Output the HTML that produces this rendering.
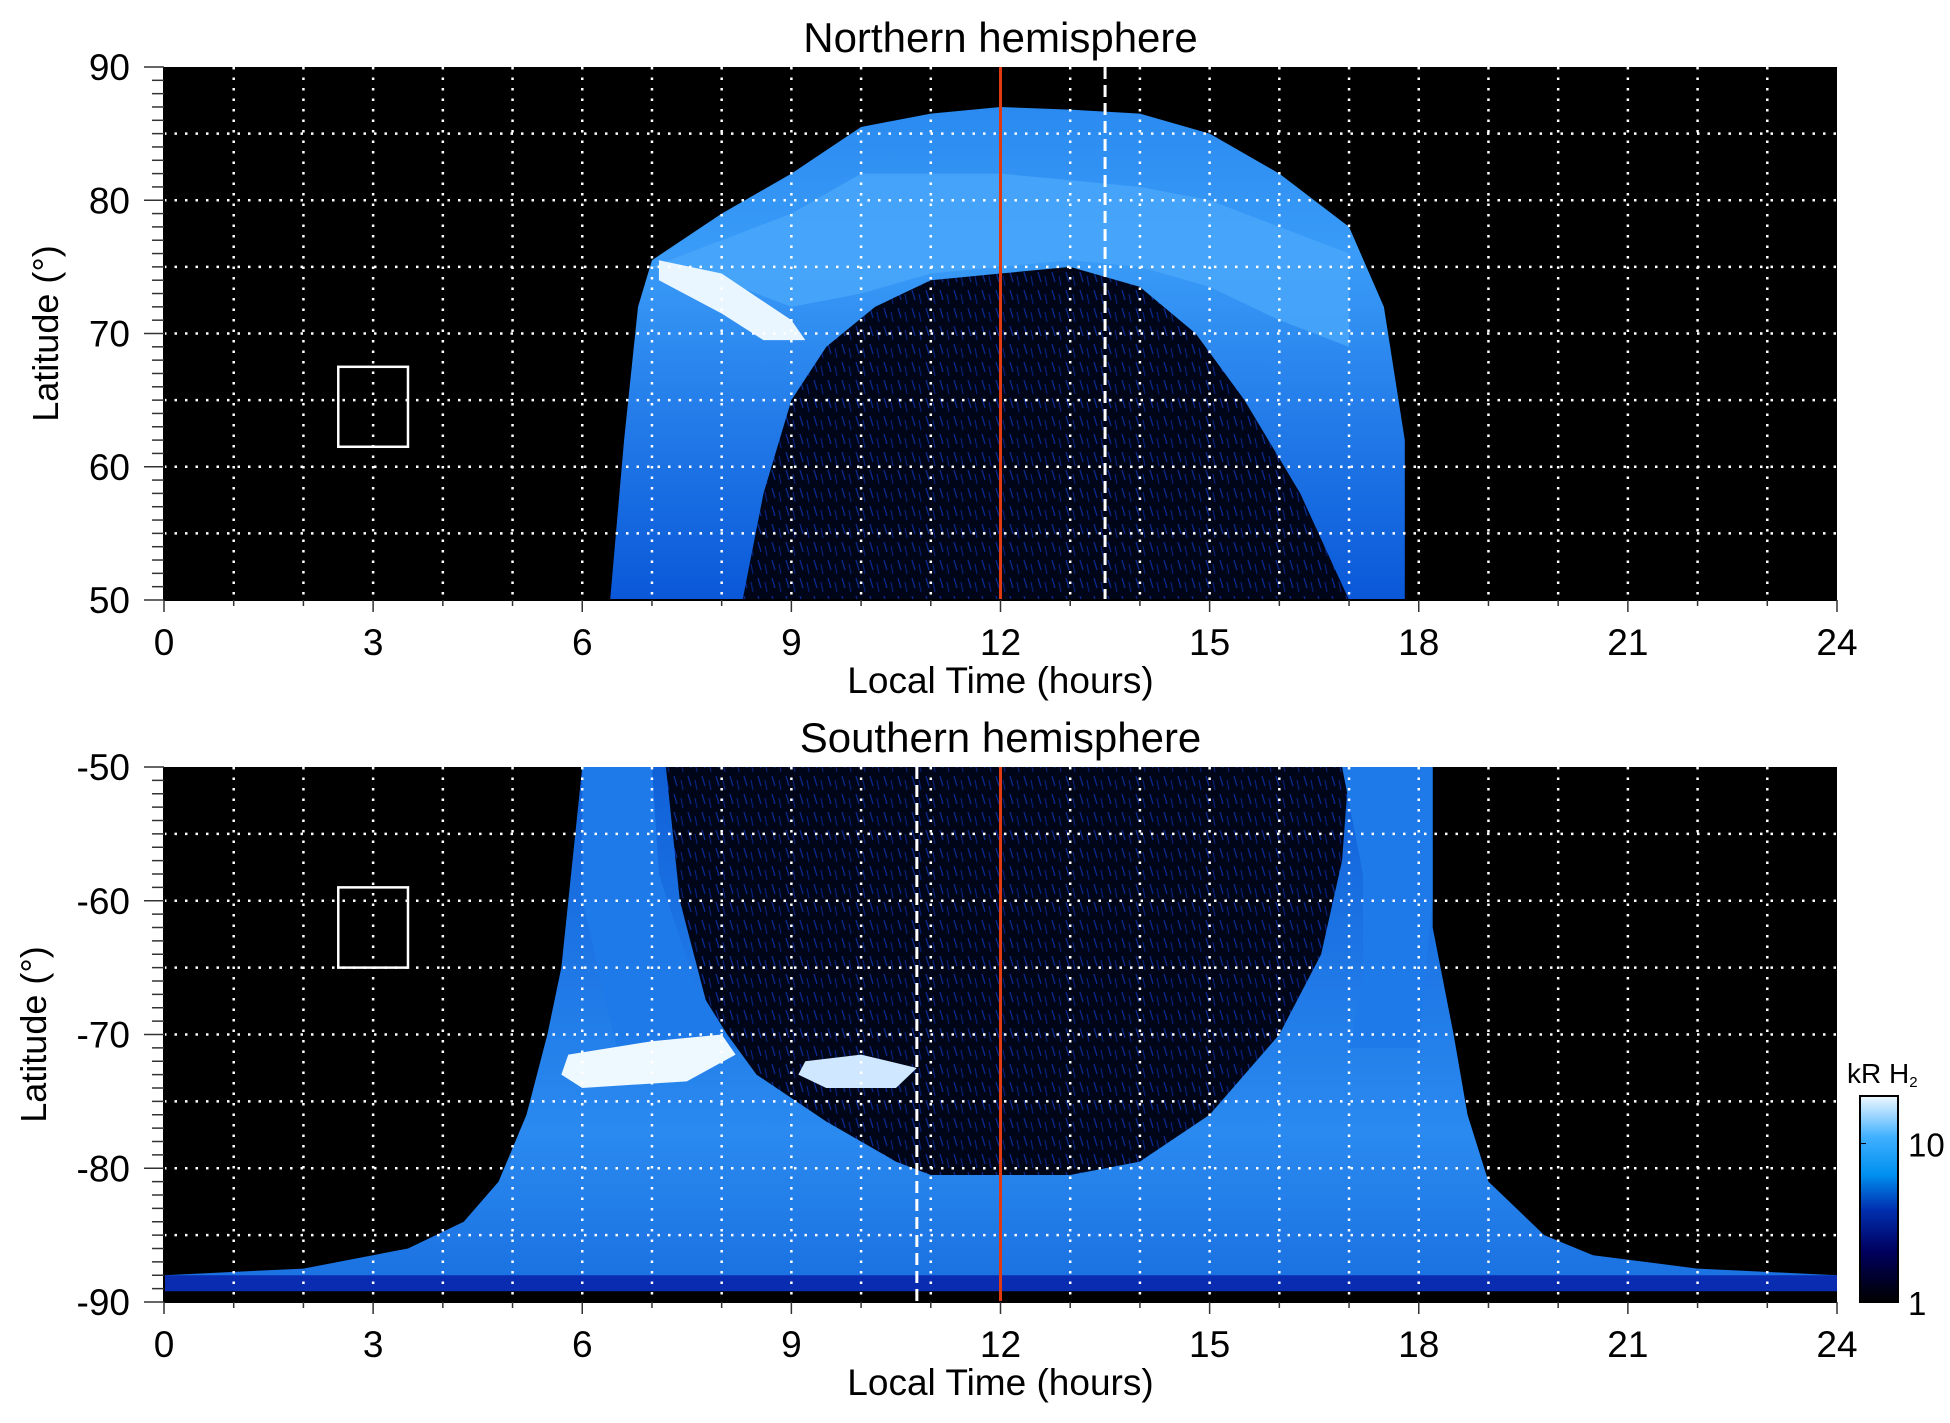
<!DOCTYPE html>
<html><head><meta charset="utf-8"><style>
body{margin:0;background:#fff;}
svg{display:block;font-family:"Liberation Sans",sans-serif;}
</style></head><body>
<svg id="c" width="1950" height="1423" viewBox="0 0 1950 1423">
<defs>
<linearGradient id="cb" x1="0" y1="1" x2="0" y2="0">
<stop offset="0" stop-color="#000000"/><stop offset="0.25" stop-color="#000060"/><stop offset="0.45" stop-color="#0030b0"/><stop offset="0.62" stop-color="#0090f0"/><stop offset="0.8" stop-color="#40b0ff"/><stop offset="1" stop-color="#f0f8ff"/>
</linearGradient>
<linearGradient id="gN" x1="0" y1="0" x2="0" y2="1">
<stop offset="0" stop-color="#2a8af0"/><stop offset="0.3" stop-color="#3a9cf8"/><stop offset="1" stop-color="#0a58d8"/>
</linearGradient>
<linearGradient id="gS" x1="0" y1="1" x2="0" y2="0">
<stop offset="0" stop-color="#1a70e0"/><stop offset="0.3" stop-color="#2a8af0"/><stop offset="1" stop-color="#1060d8"/>
</linearGradient>
<pattern id="spk" width="14" height="18" patternUnits="userSpaceOnUse">
<rect width="14" height="18" fill="#000518"/>
<line x1="2" y1="2" x2="5" y2="12" stroke="#0a2a90" stroke-width="1.3"/>
<line x1="9" y1="6" x2="11" y2="16" stroke="#06207a" stroke-width="1.2"/>
</pattern>
</defs>
<g id="plots"></g>
</svg>
<script>
// ---- data ----
const hourTicks=[0,3,6,9,12,15,18,21,24];
const latTicksN=[50,60,70,80,90];
const latTicksS=[-90,-80,-70,-60,-50];
const noonLT=12;
const dashLTN=13.5, dashLTS=10.8;
const outerN=[[6.4,50],[6.6,62],[6.8,72],[7,75.5],[8,79],[9,82],[10,85.5],[11,86.5],[12,87],[13,86.8],[14,86.5],[15,85],[16,82],[17,78],[17.5,72],[17.8,62],[17.8,50]];
const innerN=[[8.3,50],[8.6,58],[9,65],[9.5,69],[10.2,72],[11,74],[12,74.5],[13,75],[14,73.5],[14.8,70],[15.5,65],[16.3,58],[17,50]];
const brightN=[[7,75],[8,74],[9,72],[10,73],[11,74.5],[12,75],[13,75.5],[14,75],[15,73.5],[16,71],[17,69],[17,76],[16,78],[15,80],[14,81],[12,82],[10,82],[9,79],[8,77]];
const spotN=[[7.1,75.5],[8,74.5],[9,71],[9.2,69.5],[8.6,69.5],[8,71.5],[7.1,74]];
const outerS=[[6,-50],[5.7,-65],[5.5,-70],[5.2,-76],[4.8,-81],[4.3,-84],[3.5,-86],[2,-87.5],[0,-88],[0,-89],[24,-89],[24,-88],[22,-87.5],[20.5,-86.5],[19.8,-85],[19,-81],[18.7,-76],[18.5,-70],[18.2,-62],[18.2,-50]];
const innerS=[[7.2,-50],[7.4,-60],[7.8,-68],[8.5,-73],[9.5,-76.5],[10.5,-79.5],[11,-80.5],[13,-80.5],[14,-79.5],[15,-76],[16,-70],[16.6,-64],[16.9,-57],[17,-50]];
const leftBandS=[[7,-50],[7.1,-58],[7.6,-66],[8.2,-71]];
const rightBandS=[[16.9,-50],[17.2,-58],[17.2,-66],[17,-71]];
const spot1S=[[5.8,-71.5],[7,-70.5],[8,-70],[8.2,-71.5],[7.5,-73.5],[6,-74],[5.7,-73]];
const spot2S=[[9.2,-72],[10,-71.5],[10.8,-72.5],[10.5,-74],[9.5,-74],[9.1,-73]];
const stripS=[[0,-88],[24,-88],[24,-89.2],[0,-89.2]];
const cbTicks=[1,10];
// ---- geometry ----
const X0=164,X1=1837;
const P=[{top:67,bot:600,lo:50,hi:90,title:"Northern hemisphere",ticks:latTicksN},
         {top:767,bot:1302,lo:-90,hi:-50,title:"Southern hemisphere",ticks:latTicksS}];
const NS="http://www.w3.org/2000/svg";
const root=document.getElementById('plots');
function el(t,a,p){const e=document.createElementNS(NS,t);for(const k in a)e.setAttribute(k,a[k]);(p||root).appendChild(e);return e;}
const xs=h=>X0+(X1-X0)*h/24;
const XC=(X0+X1)/2;
function poly(pts,fill,ys,name,g){const e=el('polygon',{points:pts.map(p=>xs(p[0])+','+ys(p[1])).join(' '),fill:fill},g);

return e;}
P.forEach((p,i)=>{
 const ys=l=>p.bot-(p.bot-p.top)*(l-p.lo)/(p.hi-p.lo);
 const g=el('g',{});
 
 
 const bg=el('rect',{x:X0,y:p.top,width:X1-X0,height:p.bot-p.top,fill:'#000'},g);
 
 
 if(i==0){
  poly(outerN,'url(#gN)',ys,'auroral-oval',g);
  poly(brightN,'#4aa8fa',ys,'bright-band',g).setAttribute('opacity','0.8');
  poly(innerN,'url(#spk)',ys,'polar-cap',g);
  poly(spotN,'#eaf6ff',ys,'bright-spot',g);
 }else{
  poly(outerS,'url(#gS)',ys,'auroral-oval',g);
  poly(innerS,'url(#spk)',ys,'polar-cap',g);
  poly(leftBandS.concat([[6.5,-71],[6,-60],[6,-50]]),'#1e7ae8',ys,'left-band',g);
  poly(rightBandS.concat([[18,-71],[18.2,-60],[18.2,-50]]),'#1e7ae8',ys,'right-band',g);
  poly(stripS,'#0a2cb0',ys,'bottom-strip',g);
  poly(spot1S,'#eef8ff',ys,'bright-spot',g);
  poly(spot2S,'#cfe8ff',ys,'bright-spot-2',g);
 }
 for(let h=1;h<24;h++){const l=el('line',{x1:xs(h),x2:xs(h),y1:p.top,y2:p.bot,stroke:'#fff','stroke-width':2.5,'stroke-dasharray':'2.5 8'},g);
  
  }
 for(let l=p.lo+5;l<p.hi;l+=5){const e=el('line',{x1:X0,x2:X1,y1:ys(l),y2:ys(l),stroke:'#fff','stroke-width':2.5,'stroke-dasharray':'2.5 8'},g);
  
  }
 const nl=el('line',{x1:xs(noonLT),x2:xs(noonLT),y1:p.top,y2:p.bot,stroke:'#e03a10','stroke-width':3},g);
 
 
 const d=i?dashLTS:dashLTN;
 const dl=el('line',{x1:xs(d),x2:xs(d),y1:p.top,y2:p.bot,stroke:'#fff','stroke-width':3,'stroke-dasharray':'12 6'},g);
 
 
 const by=i?[-59,-65]:[67.5,61.5];
 const bx=el('rect',{x:xs(2.5),y:ys(by[0]),width:xs(3.5)-xs(2.5),height:ys(by[1])-ys(by[0]),fill:'none',stroke:'#fff','stroke-width':2.5},g);
 
 
 el('line',{x1:X0,x2:X1,y1:p.bot,y2:p.bot,stroke:'#000','stroke-width':2},g);
 el('line',{x1:X0,x2:X0,y1:p.top,y2:p.bot,stroke:'#000','stroke-width':2},g);
 for(let l=p.lo;l<=p.hi;l++){const big=l%10==0;el('line',{x1:X0-(big?20:12),x2:X0,y1:ys(l),y2:ys(l),stroke:'#333','stroke-width':1.5},g);}
 for(let h=0;h<=24;h++){el('line',{x1:xs(h),x2:xs(h),y1:p.bot,y2:p.bot+(h%3==0?12:6),stroke:'#333','stroke-width':1.5},g);}
 p.ticks.forEach(l=>{const t=el('text',{x:X0-34,y:ys(l)+13,'font-size':37,'text-anchor':'end'},g);t.textContent=l;
  
  });
 hourTicks.forEach(h=>{const t=el('text',{x:xs(h),y:p.bot+55,'font-size':37,'text-anchor':'middle'},g);t.textContent=h;
  
  });
 const xt=el('text',{x:XC,y:p.bot+93,'font-size':37,'text-anchor':'middle'},g);xt.textContent='Local Time (hours)';
 
 
 const tt=el('text',{x:XC,y:p.top-15,'font-size':42,'text-anchor':'middle'},g);tt.textContent=p.title;
 
 
 const yt=el('text',{x:0,y:0,'font-size':36,'text-anchor':'middle',transform:`translate(${i?46:58},${(p.top+p.bot)/2}) rotate(-90)`},g);yt.textContent='Latitude (°)';
 
 
});
const cg=el('g',{});


el('rect',{x:1860,y:1096,width:38,height:206,fill:'url(#cb)',stroke:'#000','stroke-width':2},cg);
const cbY=v=>1302-206*Math.log10(v)/1.3;
cbTicks.forEach(v=>{const t=el('text',{x:1908,y:cbY(v)+13,'font-size':33},cg);t.textContent=v;
 
 
 el('line',{x1:1860,x2:1866,y1:cbY(v),y2:cbY(v),stroke:'#000'},cg);});
const ct=el('text',{x:1847,y:1083,'font-size':28},cg);ct.innerHTML='kR H<tspan font-size="15" dy="4">2</tspan>';


</script>
</body></html>
